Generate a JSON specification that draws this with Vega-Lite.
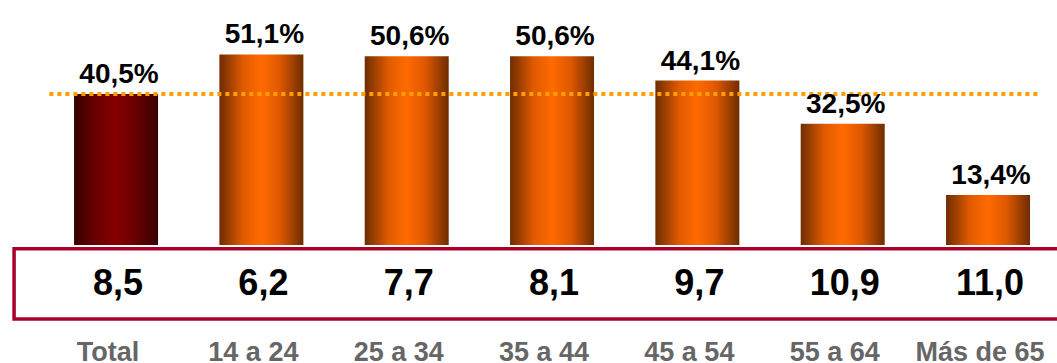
{
  "$schema": "https://vega.github.io/schema/vega-lite/v6.json",
  "width": 1057,
  "height": 363,
  "autosize": {"type": "none"},
  "padding": 0,
  "background": "white",
  "config": {
    "view": {"stroke": null},
    "font": "Liberation Sans",
    "locale": {"number": {"decimal": ",", "thousands": ".", "grouping": [3], "currency": ["", "%"]}}
  },
  "data": {
    "values": [
      {"grupo": "Total", "pct": 40.5, "valor": 8.5},
      {"grupo": "14 a 24", "pct": 51.1, "valor": 6.2},
      {"grupo": "25 a 34", "pct": 50.6, "valor": 7.7},
      {"grupo": "35 a 44", "pct": 50.6, "valor": 8.1},
      {"grupo": "45 a 54", "pct": 44.1, "valor": 9.7},
      {"grupo": "55 a 64", "pct": 32.5, "valor": 10.9},
      {"grupo": "Más de 65", "pct": 13.4, "valor": 11.0}
    ]
  },
  "encoding": {
    "x": {
      "field": "grupo",
      "type": "nominal",
      "sort": null,
      "axis": null,
      "scale": {
        "domain": ["Total", "14 a 24", "25 a 34", "35 a 44", "45 a 54", "55 a 64", "Más de 65"],
        "paddingInner": 0.422, "paddingOuter": 0.3476, "align": 0.733
      }
    }
  },
  "layer": [
    {
      "transform": [{"filter": "datum.grupo === 'Total'"}],
      "mark": {"type": "rect", "fill": "white", "stroke": "#A8002A", "strokeWidth": 3.5},
      "encoding": {
        "x": {"datum": "Total", "bandPosition": -0.714},
        "x2": {"datum": "Más de 65", "bandPosition": 2},
        "y": {"datum": -0.99, "type": "quantitative", "scale": {"domain": [-31.635, 65.684], "nice": false, "zero": false}, "axis": null},
        "y2": {"datum": -19.84}
      }
    },
    {
      "transform": [{"filter": "datum.grupo === 'Total'"}],
      "mark": {
        "type": "bar",
        "color": {
          "gradient": "linear", "x1": 0, "y1": 0, "x2": 1, "y2": 0,
          "stops": [
            {"offset": 0, "color": "#380000"},
            {"offset": 0.3, "color": "#700000"},
            {"offset": 0.5, "color": "#850000"},
            {"offset": 0.7, "color": "#6c0000"},
            {"offset": 1, "color": "#380000"}
          ]
        }
      },
      "encoding": {
        "y": {"field": "pct", "type": "quantitative"},
        "y2": {"datum": 0}
      }
    },
    {
      "transform": [{"filter": "datum.grupo !== 'Total'"}],
      "mark": {
        "type": "bar",
        "color": {
          "gradient": "linear", "x1": 0, "y1": 0, "x2": 1, "y2": 0,
          "stops": [
            {"offset": 0, "color": "#6e2c00"},
            {"offset": 0.28, "color": "#e05a00"},
            {"offset": 0.5, "color": "#ff6a00"},
            {"offset": 0.72, "color": "#de5800"},
            {"offset": 1, "color": "#6e2c00"}
          ]
        }
      },
      "encoding": {
        "y": {"field": "pct", "type": "quantitative"},
        "y2": {"datum": 0}
      }
    },
    {
      "transform": [{"filter": "datum.grupo === 'Total'"}],
      "mark": {"type": "rule", "color": "#FF9E00", "strokeWidth": 4, "strokeDash": [4, 4]},
      "encoding": {
        "x": {"datum": "Total", "bandPosition": -0.294},
        "x2": {"datum": "Más de 65", "bandPosition": 1.095},
        "y": {"field": "pct", "type": "quantitative"}
      }
    },
    {
      "mark": {"type": "text", "fontSize": 28, "fontWeight": "bold", "baseline": "alphabetic", "dy": -11, "dx": 3, "color": "black"},
      "encoding": {
        "y": {"field": "pct", "type": "quantitative"},
        "text": {"field": "pct", "type": "quantitative", "format": "$.1f"}
      }
    },
    {
      "mark": {"type": "text", "fontSize": 36, "fontWeight": "bold", "baseline": "alphabetic", "dx": 2, "color": "black"},
      "encoding": {
        "y": {"datum": -13.4, "type": "quantitative"},
        "text": {"field": "valor", "type": "quantitative", "format": ".1f"}
      }
    },
    {
      "mark": {"type": "text", "fontSize": 27, "fontWeight": "bold", "baseline": "alphabetic", "dx": -8, "color": "#666666"},
      "encoding": {
        "y": {"datum": -31.1, "type": "quantitative"},
        "text": {"field": "grupo", "type": "nominal"}
      }
    }
  ]
}
